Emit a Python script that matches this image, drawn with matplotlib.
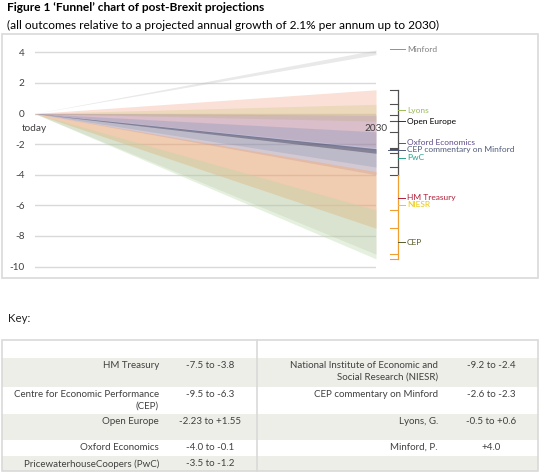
import matplotlib
matplotlib.use('Agg')
import matplotlib.pyplot as plt
from matplotlib.patches import Rectangle

plt.rcParams['font.family'] = ['Lato', 'DejaVu Sans']

# projections of output change by 2030 (% relative to baseline)
sources = ['Open Europe', 'Lyons', 'Oxford Economics', 'PwC',
           'CEP commentary on Minford', 'NIESR', 'HM Treasury', 'CEP',
           'Minford']
low = [-2.23, -0.5, -4.0, -3.5, -2.6, -9.2, -7.5, -9.5, 4.0]
high = [1.55, 0.6, -0.1, -1.2, -2.3, -2.4, -3.8, -6.3, 4.0]
group = ['a', 'a', 'a', 'a', 'a', 'b', 'b', 'b', 'm']
periods = ['today', '2030']
yticks = [4, 2, 0, -2, -4, -6, -8, -10]

# key table
left_names = ['HM Treasury', 'Centre for Economic Performance\n(CEP)',
              'Open Europe', 'Oxford Economics',
              'PricewaterhouseCoopers (PwC)']
left_ranges = ['-7.5 to -3.8', '-9.5 to -6.3', '-2.23 to +1.55',
               '-4.0 to -0.1', '-3.5 to -1.2']
right_names = ['National Institute of Economic and\nSocial Research (NIESR)',
               'CEP commentary on Minford', 'Lyons, G.', 'Minford, P.', '']
right_ranges = ['-9.2 to -2.4', '-2.6 to -2.3', '-0.5 to +0.6', '+4.0', '']

# styling
fill_col = ['#f0a080', '#d0c880', '#8868a8', '#7088b8', '#404060',
            '#b0a090', '#f5a870', '#b8d8a8', '#c0c0c0']
fill_alpha = [0.32, 0.32, 0.28, 0.26, 0.55, 0.22, 0.45, 0.36, 0.35]
text_col = ['#000000', '#9bbb59', '#5f4b8b', '#2aa08a', '#4f5b7a',
            '#f0c800', '#b0203a', '#5a5a2a', '#808080']
lead_col = ['#303030', '#9bbb59', '#5f4b8b', '#2aa08a', '#4f5b7a',
            '#f0c800', '#b0203a', '#5a5a2a', '#909090']
label_y = [-0.5, 0.2, -1.9, -2.88, -2.38, -5.95, -5.5, -8.4, 4.2]
lead_start_px = [398, 398, 398, 398, 388, 398, 398, 398, 390]
minford_spread = 0.15

W, H = 540, 474
fig = plt.figure(figsize=(W / 100, H / 100), dpi=100)

# page layer in pixel coordinates
bg = fig.add_axes([0, 0, 1, 1], zorder=0)
bg.set_xlim(0, W)
bg.set_ylim(H, 0)
bg.axis('off')

bg.text(7, 7, 'Figure 1 \u2018Funnel\u2019 chart of post-Brexit projections',
        fontsize=8.6, fontweight='bold', va='center')
bg.text(7, 25, '(all outcomes relative to a projected annual growth of '
        '2.1% per annum up to 2030)', fontsize=8.6, va='center')
bg.add_patch(Rectangle((2, 34), 536, 244, fc='white', ec='#d9d9d9', lw=1.2))
bg.text(8, 318, 'Key:', fontsize=8.2, va='center', color='#202020')

# table
row_edges = [340, 358, 387, 414, 440, 456, 471]
for i in range(len(row_edges) - 1):
    fc = '#eeeee9' if i % 2 == 1 else 'white'
    bg.add_patch(Rectangle((2, row_edges[i]), 536,
                           row_edges[i + 1] - row_edges[i], fc=fc, ec='none'))
bg.add_patch(Rectangle((2, row_edges[0]), 536, row_edges[-1] - row_edges[0],
                       fc='none', ec='#d9d9d9', lw=1.2))
bg.plot([257, 257], [row_edges[0], row_edges[-1]], color='#d9d9d9', lw=1.2)
for i in range(len(left_names)):
    ty = row_edges[i + 1] + 3
    kw = dict(fontsize=7, va='top', color='#404040', linespacing=1.35)
    bg.text(159, ty, left_names[i], ha='right', multialignment='right', **kw)
    bg.text(210, ty, left_ranges[i], ha='center', **kw)
    bg.text(438, ty, right_names[i], ha='right', multialignment='right', **kw)
    bg.text(491, ty, right_ranges[i], ha='center', **kw)

# chart
ylo, yhi = -10.5, 4.6
ppu = 15.3
top_px = 113.5 - yhi * ppu
bot_px = 113.5 - ylo * ppu
x0, x1 = 34.5, 376
ax = fig.add_axes([x0 / W, 1 - bot_px / H, (x1 - x0) / W,
                   (bot_px - top_px) / H], zorder=1)
ax.patch.set_alpha(0)
ax.set_xlim(0, 1)
ax.set_ylim(ylo, yhi)
for s in ax.spines.values():
    s.set_visible(False)
ax.set_yticks(yticks)
ax.set_yticklabels([str(t) for t in yticks])
ax.tick_params(axis='y', length=0, pad=7, labelsize=7.2, labelcolor='#404040')
ax.set_xticks([])
ax.yaxis.grid(True, color='#d9d9d9', lw=1)
ax.set_axisbelow(True)

xs = [0, 1]
for i, name in enumerate(sources):
    lo, hi = low[i], high[i]
    if group[i] == 'm':
        lo, hi = lo - minford_spread, hi + minford_spread
    ax.fill_between(xs, [0, lo], [0, hi], color=fill_col[i],
                    alpha=fill_alpha[i], lw=0)

for xv, lab in zip(xs, periods):
    ax.text(xv, -0.95, lab, ha='center', va='center', fontsize=7.2,
            color='#404040')


def px2x(px):
    return (px - x0) / (x1 - x0)


# brackets on the right
bx = px2x(398)
tick_len = 0.022
lead_end = px2x(405)
text_x = px2x(407)
bracket_col = {'a': '#505050', 'b': '#f0a030'}
a_idx = [i for i, g in enumerate(group) if g == 'a']
b_idx = [i for i, g in enumerate(group) if g == 'b']
a_top = max(high[i] for i in a_idx)
a_bot = min(low[i] for i in a_idx)
b_bot = min(low[i] for i in b_idx)
spans = {'a': (a_top, a_bot), 'b': (a_bot, b_bot)}
for g, (t, b) in spans.items():
    ax.plot([bx, bx], [t, b], color=bracket_col[g], lw=0.9, clip_on=False)
    idx = a_idx if g == 'a' else b_idx
    ends = sorted(set([low[i] for i in idx] + [high[i] for i in idx]))
    for e in ends:
        if b <= e <= t:
            ax.plot([bx - tick_len, bx], [e, e], color=bracket_col[g],
                    lw=0.8, clip_on=False)

for i, name in enumerate(sources):
    ly = label_y[i]
    ax.plot([px2x(lead_start_px[i]), lead_end], [ly, ly], color=lead_col[i],
            lw=0.7, clip_on=False)
    ax.text(text_x, ly, name, color=text_col[i], fontsize=6, va='center',
            ha='left', clip_on=False)

fig.savefig('out.png', dpi=100)
